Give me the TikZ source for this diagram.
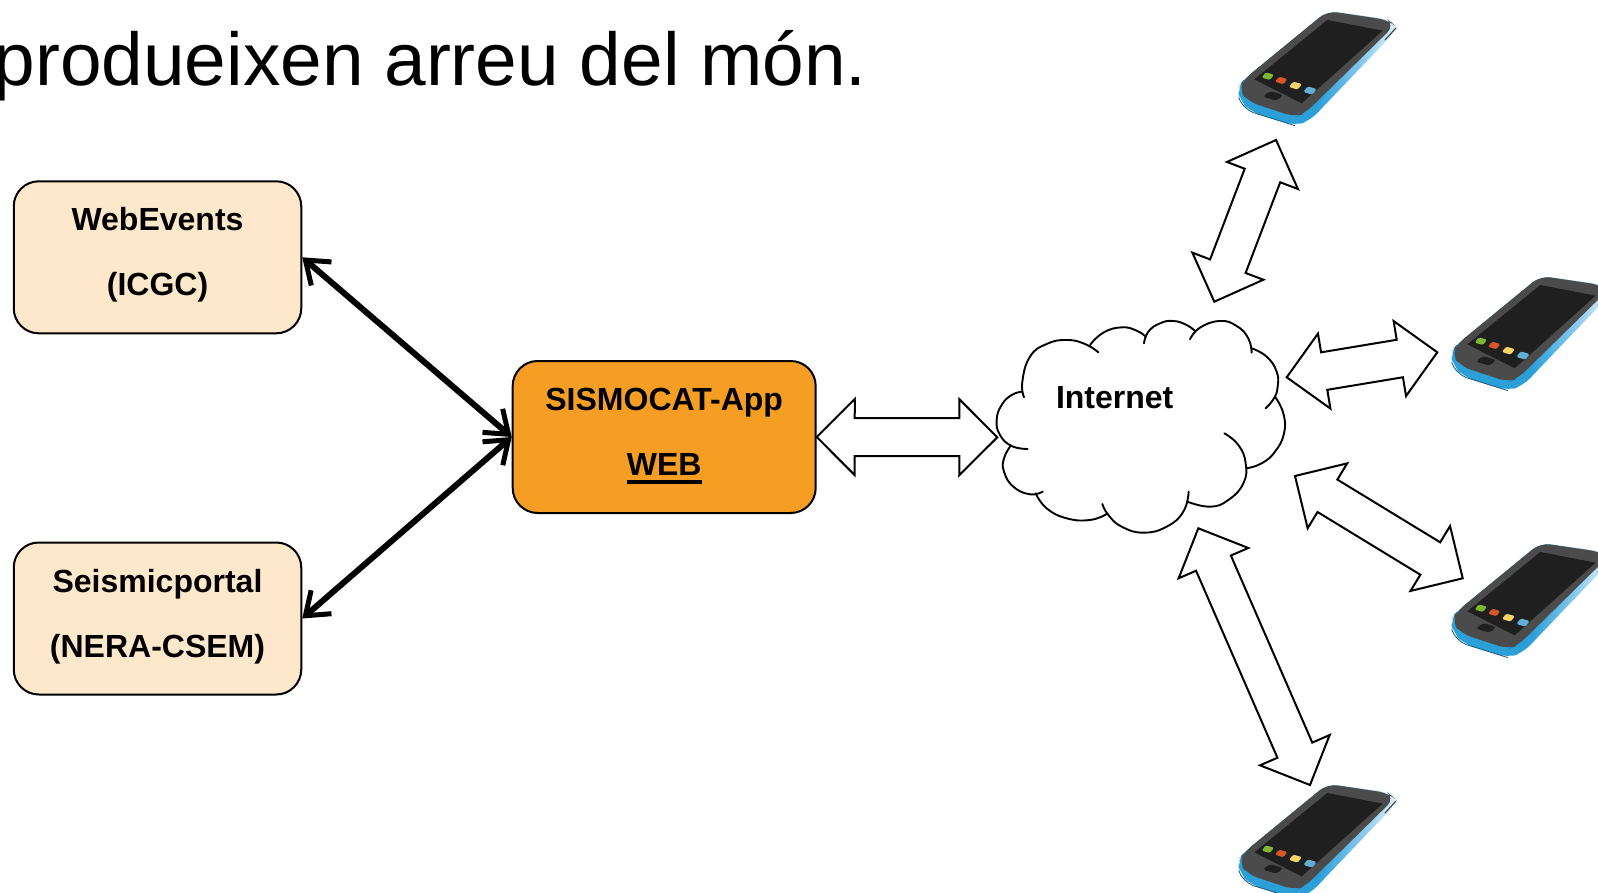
\documentclass[tikz,border=0pt]{standalone}
\usepackage{fontspec}
\setmainfont{Liberation Sans}
\usetikzlibrary{arrows.meta,calc}
\definecolor{boxcream}{HTML}{FDE8CB}
\definecolor{boxorange}{HTML}{F59E23}
\definecolor{phblue}{HTML}{2A9FD8}
\definecolor{phmid}{HTML}{8CCBEE}
\definecolor{phpale}{HTML}{E0F2FB}
\definecolor{phface}{HTML}{4B4B4B}
\definecolor{phscreen}{HTML}{1F1F1F}
\definecolor{phgreen}{HTML}{7DB832}
\definecolor{phred}{HTML}{D9562A}
\definecolor{phyellow}{HTML}{F2D468}
\definecolor{phsky}{HTML}{62AFD6}
\pgfdeclarehorizontalshading{phoneside}{100bp}{color(0bp)=(phblue);color(25bp)=(phblue);color(50bp)=(phblue);color(64.5bp)=(phmid);color(75bp)=(phpale);color(100bp)=(phpale)}
\newcommand\twolines[2]{\rule{0pt}{32pt}#1\\#2\rule[-20pt]{0pt}{20pt}}
\newcommand\thickul[1]{\setbox0\hbox{#1}\rlap{\rule[-8pt]{\wd0}{4pt}}\box0}
\newcommand\cloudbump[1]{\draw[cloudline] plot[smooth,tension=0.8] coordinates {#1};}
\newcommand\bigarrow[2]{%
  \draw[blockarrow] (#1)
    -- ($(#1)!38pt!(#2)!38pt!90:(#2)$)
    -- ($(#1)!38pt!(#2)!19pt!90:(#2)$)
    -- ($(#2)!38pt!(#1)!19pt!-90:(#1)$)
    -- ($(#2)!38pt!(#1)!38pt!-90:(#1)$)
    -- (#2)
    -- ($(#2)!38pt!(#1)!38pt!90:(#1)$)
    -- ($(#2)!38pt!(#1)!19pt!90:(#1)$)
    -- ($(#1)!38pt!(#2)!19pt!-90:(#2)$)
    -- ($(#1)!38pt!(#2)!38pt!-90:(#2)$)
    -- cycle;}
\tikzset{
  boxnode/.style={draw=black,line width=2pt,rounded corners=25pt,align=center,
    inner sep=0pt,font=\fontsize{32}{65}\selectfont\bfseries},
  sourcebox/.style={boxnode,fill=boxcream,minimum width=287.5pt,minimum height=152pt},
  appbox/.style={boxnode,fill=boxorange,minimum width=303pt,minimum height=152pt},
  linkarrow/.style={line width=6pt,
    {Straight Barb[length=21pt,width=31pt,line width=5pt]}-{Straight Barb[length=21pt,width=31pt,line width=5pt]}},
  blockarrow/.style={draw=black,line width=2pt,fill=white,miter limit=10},
  cloudline/.style={draw=black,line width=1.9pt,line cap=round},
  phone/.pic={
    \begin{scope}[x=0.3333pt,y=-0.3333pt]
      \path[shading=phoneside,rounded corners=10pt]
        (322,33) -- (505,58) -- (533,76) -- (528,92) -- (270,362) -- (225,377)
        -- (92,335) -- (60,302) -- (52,262) -- (72,238) -- cycle;
      \draw[phblue!55!black,line width=0.8pt]
        (56,292) .. controls (62,312) and (80,330) .. (100,338) -- (225,377);
      \path[fill=phface,rounded corners=10pt]
        (322,33) -- (505,60) -- (524,76) -- (255,340) -- (225,351)
        -- (85,305) -- (55,268) -- (72,238) -- cycle;
      \draw[phface,line width=1.2pt,line cap=round] (528,84) -- (495,120);
      \path[fill=phscreen] (322,60) -- (488,92) -- (245,310) -- (103,238) -- cycle;
      \path[fill=phscreen,rounded corners=3pt] (150,273) -- (190,285) -- (170,302) -- (128,290) -- cycle;
      \path[fill=phgreen,rounded corners=1.5pt] (137,217) -- (162,224) -- (150,240) -- (125,233) -- cycle;
      \path[fill=phred,rounded corners=1.5pt] (177,230) -- (202,237) -- (190,253) -- (165,245) -- cycle;
      \path[fill=phyellow,rounded corners=1.5pt] (219,245) -- (246,252) -- (233,269) -- (207,261) -- cycle;
      \path[fill=phsky,rounded corners=1.5pt] (263,259) -- (290,267) -- (277,284) -- (250,276) -- cycle;
    \end{scope}
  },
}
\begin{document}
\begin{tikzpicture}[x=1pt,y=-1pt]
\useasboundingbox (0,0) rectangle (1598,893);
\clip (0,0) rectangle (1598,893);
\node[anchor=base west,inner sep=0pt,font=\fontsize{74.8}{80}\selectfont] (title) at (-6.5,86) {produeixen arreu del món.};

\node[sourcebox] (web) at (157.5,257.3) {\twolines{WebEvents}{(ICGC)}};
\node[sourcebox] (seis) at (157.5,618.5) {\twolines{Seismicportal}{(NERA-CSEM)}};
\node[appbox] (app) at (664.2,437) {\twolines{SISMOCAT-App}{\thickul{WEB}}};

\draw[linkarrow] (web.east) -- (app.west);
\draw[linkarrow] (seis.east) -- (app.west);

% cloud
\begin{scope}[shift={(980,300)},x=0.3333pt,y=-0.3333pt]
  \cloudbump{(132,292)(127,245)(150,170)(200,132)(260,120)(315,132)(355,157)}
  \cloudbump{(330,135)(370,98)(425,82)(470,92)(497,110)}
  \cloudbump{(492,130)(505,95)(540,70)(580,63)(620,75)(647,95)}
  \cloudbump{(630,118)(660,83)(720,63)(770,78)(805,115)(815,158)}
  \cloudbump{(815,145)(860,170)(890,215)(893,260)(882,295)(857,325)}
  \cloudbump{(885,290)(910,340)(912,400)(885,455)(845,490)(800,505)}
  \cloudbump{(733,400)(775,435)(797,490)(790,550)(745,600)(690,620)(622,605)}
  \cloudbump{(626,575)(610,635)(560,680)(490,698)(425,680)(385,645)(367,612)}
  \cloudbump{(380,642)(330,660)(260,655)(200,625)(167,580)}
  \cloudbump{(188,575)(150,583)(100,560)(72,515)(72,475)(92,437)}
  \cloudbump{(143,447)(95,438)(60,405)(50,360)(65,315)(95,285)(127,275)}
\end{scope}
\node[anchor=base,inner sep=0pt,font=\fontsize{32}{36}\selectfont\bfseries] (internet) at (1114.7,408) {Internet};

% block arrows
\coordinate (h2) at (997.3,437.3);
\coordinate (a1) at (1276,140);      \coordinate (b1) at (1214.3,301.7);
\coordinate (a2) at (1437.3,352.3);  \coordinate (b2) at (1286.7,377.3);
\coordinate (a3) at (1462.7,578.3);  \coordinate (b3) at (1295,476);
\coordinate (a4) at (1310,785);      \coordinate (b4) at (1198.3,528.3);
\bigarrow{app.east}{h2}
\bigarrow{a1}{b1}
\bigarrow{a2}{b2}
\bigarrow{a3}{b3}
\bigarrow{a4}{b4}

% phones
\pic at (1220,0) {phone};
\pic at (1433,265) {phone};
\pic at (1433,532) {phone};
\pic at (1220,773) {phone};
\end{tikzpicture}
\end{document}
